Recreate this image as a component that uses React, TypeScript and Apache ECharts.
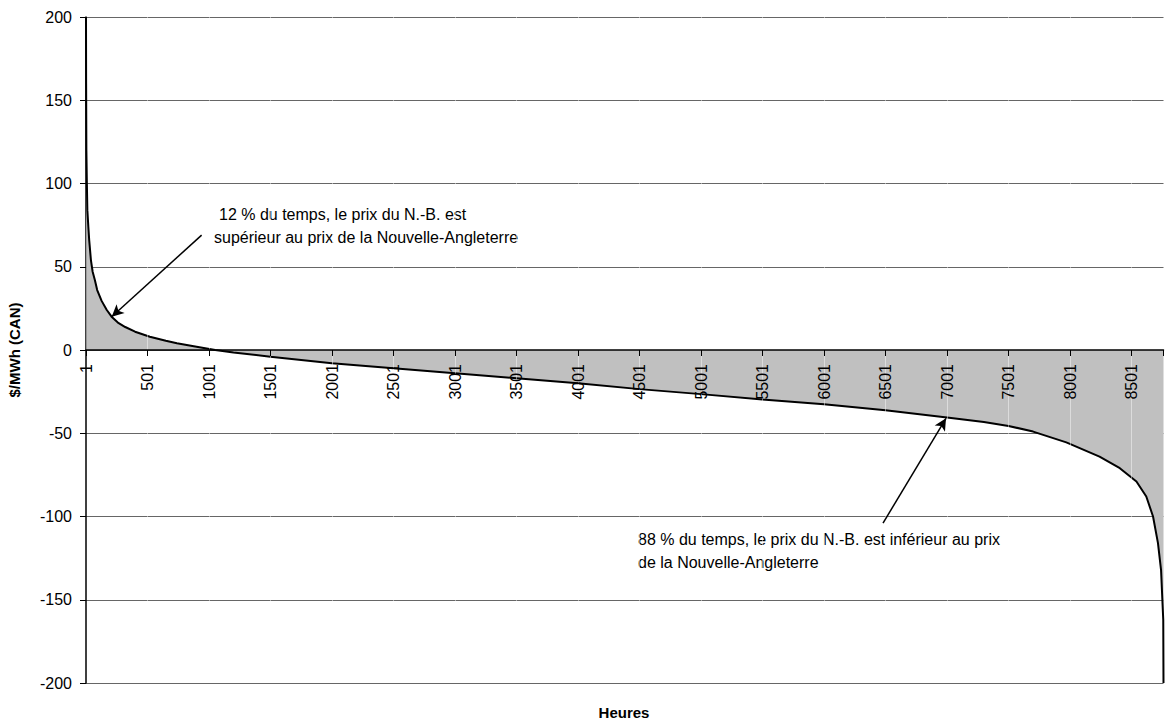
import React, { useEffect, useRef } from "react";
import * as echarts from "echarts";

// Price-difference duration curve: N.-B. price minus New England price, sorted over the 8760 hours of the year
const hours = [
  1, 2, 4, 8, 12, 20, 27, 41, 55, 73, 92, 128, 170, 209, 260, 320, 400, 520, 650, 740, 900, 1051,
  1200, 1500, 2000, 2500, 3000, 3500, 4000, 4500, 5000, 5500, 6000, 6500, 7000, 7300, 7500, 7700,
  7970, 8240, 8405, 8540, 8620, 8675, 8715, 8740, 8758, 8760,
];
const prices = [
  200, 160, 120, 100, 84, 74, 66, 54, 47, 42, 36, 29.5, 24, 20, 16.5, 13.8, 11, 8, 5.5, 4, 2, 0,
  -1.5, -4, -8, -11, -14, -17, -20, -23.5, -26.5, -29.8, -32.6, -36.2, -40.5, -43.3, -45.6, -49,
  -55.5, -64, -71, -79, -88, -100, -116, -132, -162, -200,
];

// Axis setup
const hourCount = 8760;
const hourStep = 500;
const yMin = -200;
const yMax = 200;
const yStep = 50;

// Annotation texts and arrows (arrow: tail -> head, in hours / $ per MWh)
const noteAbove = ["12 % du temps, le prix du N.-B. est", "supérieur au prix de la Nouvelle-Angleterre"];
const noteBelow = ["88 % du temps, le prix du N.-B. est inférieur au prix", "de la Nouvelle-Angleterre"];
const arrowAbove = [[941, 69], [210, 20]];
const arrowBelow = [[6480, -104], [6992, -41]];

const FONT = "Arial, 'Liberation Sans', Helvetica, sans-serif";

// Plot box inside the 1165 x 721 canvas
const GRID = { left: 86, right: 1.5, top: 17, bottom: 38 };
const CANVAS_H = 721;

export default function App() {
  const ref = useRef<HTMLDivElement | null>(null);

  useEffect(() => {
    if (!ref.current) return;
    const chart = echarts.init(ref.current, undefined, { renderer: "svg" });

    const seriesData = hours.map((h, i) => [h - 1, prices[i]]);

    // faint vertical lines at each hour tick over the filled area
    const tickLines: any[] = [];
    for (let v = hourStep; v < hourCount - 1; v += hourStep) {
      tickLines.push({
        xAxis: v,
        symbol: "none",
        lineStyle: { color: "rgba(255,255,255,0.45)", width: 1, type: "solid" },
      });
    }

    const arrowStyle = { color: "#000", width: 1.5, type: "solid" };
    const arrow = (a: number[][]) => [
      { coord: [a[0][0] - 1, a[0][1]], symbol: "none", lineStyle: arrowStyle },
      { coord: [a[1][0] - 1, a[1][1]], symbol: "arrow", symbolSize: [9, 12], lineStyle: arrowStyle },
    ];

    const text = (x: number, y: number, s: string, extra: any = {}) => ({
      type: "text",
      x,
      y,
      silent: true,
      style: {
        text: s,
        fill: "#000",
        fontFamily: FONT,
        fontSize: 16,
        align: "left",
        verticalAlign: "middle",
        textAlign: "left",
        textVerticalAlign: "middle",
        ...extra,
      },
    });

    // the hour axis sits on the zero line, which is the middle of the symmetric value range
    const plotH = CANVAS_H - GRID.top - GRID.bottom;
    const zeroOffset = -plotH * (0 - yMin) / (yMax - yMin);

    chart.setOption({
      animation: false,
      backgroundColor: "#fff",
      grid: { ...GRID, containLabel: false, outerBoundsMode: "none" },
      xAxis: {
        type: "value",
        z: 10,
        min: 0,
        max: hourCount - 1,
        interval: hourStep,
        offset: zeroOffset,
        axisLine: { onZero: false, lineStyle: { color: "#000", width: 1.5 } },
        axisTick: { show: true, length: 6, lineStyle: { color: "#000", width: 1 } },
        axisLabel: {
          rotate: 90,
          margin: 14,
          color: "#000",
          fontFamily: FONT,
          fontSize: 16,
          formatter: (v: number) => (v >= hourCount - 1 ? "" : String(v + 1)),
        },
        splitLine: { show: false },
      },
      yAxis: {
        type: "value",
        min: yMin,
        max: yMax,
        interval: yStep,
        name: "$/MWh (CAN)",
        nameLocation: "middle",
        nameGap: 64,
        nameTextStyle: { fontFamily: FONT, fontSize: 15, fontWeight: "bold", color: "#000" },
        axisLine: { show: true, onZero: false, lineStyle: { color: "#000", width: 1.5 } },
        axisTick: { show: true, length: 6, lineStyle: { color: "#000", width: 1 } },
        axisLabel: { margin: 14, color: "#000", fontFamily: FONT, fontSize: 16 },
        splitLine: { show: true, lineStyle: { color: "#666", width: 1 } },
      },
      series: [
        {
          type: "line",
          data: seriesData,
          showSymbol: false,
          smooth: false,
          lineStyle: { color: "#000", width: 2 },
          areaStyle: { color: "#c0c0c0", opacity: 1 },
          markLine: {
            silent: true,
            animation: false,
            label: { show: false },
            symbol: ["none", "none"],
            data: [...tickLines, arrow(arrowAbove), arrow(arrowBelow)],
          },
        },
      ],
      graphic: [
        text(219, 214, noteAbove[0]),
        text(214, 237, noteAbove[1]),
        text(638, 539, noteBelow[0]),
        text(638, 562, noteBelow[1]),
        text(624, 712, "Heures", { fontWeight: "bold", fontSize: 15, align: "center", textAlign: "center" }),
      ],
    });

    return () => chart.dispose();
  }, []);

  return (
    <div
      ref={ref}
      style={{ position: "absolute", left: 0, top: 0, width: 1165, height: 721, background: "#fff" }}
    />
  );
}
